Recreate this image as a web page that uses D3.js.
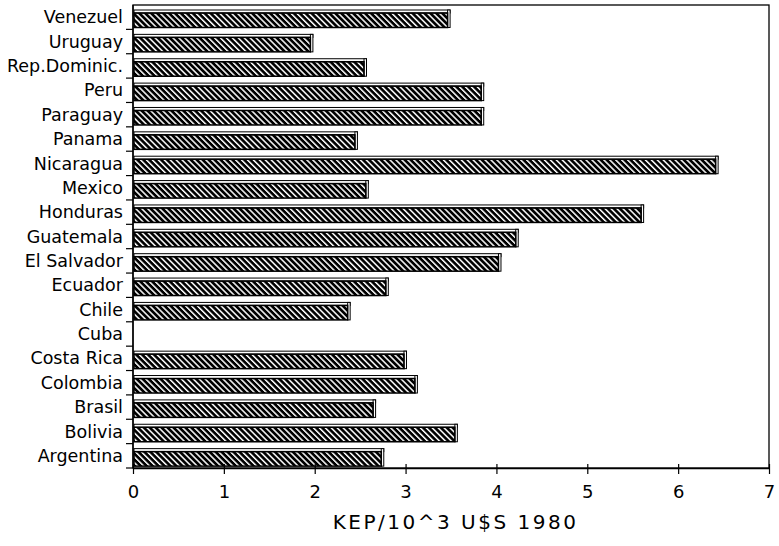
<!DOCTYPE html>
<html>
<head>
<meta charset="utf-8">
<script src="https://cdn.jsdelivr.net/npm/d3@7"></script>
<style>
  html, body { margin: 0; padding: 0; background: #fff; overflow: hidden; }
  svg { display: block; }
  text { font-family: "DejaVu Sans", sans-serif; fill: #000; }
</style>
</head>
<body>
<svg></svg>
<script>
// countries, top to bottom as in the chart
const countries = ["Venezuel", "Uruguay", "Rep.Dominic.", "Peru", "Paraguay", "Panama",
  "Nicaragua", "Mexico", "Honduras", "Guatemala", "El Salvador", "Ecuador", "Chile",
  "Cuba", "Costa Rica", "Colombia", "Brasil", "Bolivia", "Argentina"];
const kep = [3.49, 1.98, 2.57, 3.86, 3.86, 2.47,
  6.44, 2.59, 5.62, 4.24, 4.05, 2.81, 2.39,
  0, 3.01, 3.13, 2.67, 3.57, 2.76];
const xTicks = [0, 1, 2, 3, 4, 5, 6, 7];
const xTitle = "KEP/10^3 U$S 1980";

const w = 779, h = 546;
const margin = { top: 5, right: 10, bottom: 78, left: 133 };
const innerWidth = w - margin.left - margin.right;
const innerHeight = h - margin.top - margin.bottom;

const data = countries.map((c, i) => ({ name: c, value: kep[i] }));

const svg = d3.select("svg").attr("width", w).attr("height", h);

// hatch pattern like the old plotter fill
const defs = svg.append("defs");
defs.append("pattern")
  .attr("id", "hatch")
  .attr("patternUnits", "userSpaceOnUse")
  .attr("width", 4.2).attr("height", 4.2)
  .attr("patternTransform", "rotate(45)")
  .append("rect")
  .attr("x", 0).attr("y", 0)
  .attr("width", 4.2).attr("height", 2.7)
  .attr("fill", "#000");

const g = svg.append("g")
  .attr("transform", `translate(${margin.left}, ${margin.top})`);

const x = d3.scaleLinear().domain([0, 7]).range([0, innerWidth]);
const y = d3.scaleBand().domain(countries).range([0, innerHeight]).padding(0);
const bw = y.bandwidth();

// frame
g.append("rect")
  .attr("x", 0).attr("y", 0)
  .attr("width", innerWidth).attr("height", innerHeight)
  .attr("fill", "none").attr("stroke", "#000").attr("stroke-width", 1.3);

// bars
const bars = g.selectAll("g.bar")
  .data(data.filter(d => d.value > 0))
  .enter().append("g").attr("class", "bar");

// top face
bars.append("rect")
  .attr("x", 1)
  .attr("y", d => y(d.name) + 5)
  .attr("width", d => x(d.value) - 1)
  .attr("height", 3)
  .attr("fill", "#fff").attr("stroke", "#000").attr("stroke-width", 1);

// right face
bars.append("rect")
  .attr("x", d => x(d.value) - 2.5)
  .attr("y", d => y(d.name) + 5)
  .attr("width", 2.5)
  .attr("height", 17.5)
  .attr("fill", "#fff").attr("stroke", "#000").attr("stroke-width", 1);

// hatched body
bars.append("rect")
  .attr("x", 1)
  .attr("y", d => y(d.name) + 8)
  .attr("width", d => x(d.value) - 3.5)
  .attr("height", 14.5)
  .attr("fill", "url(#hatch)").attr("stroke", "#000").attr("stroke-width", 1.5);

// y axis: labels at band centres, ticks at band edges
const yAxis = d3.axisLeft(y).tickSize(0).tickPadding(10);
const yAxisG = g.append("g").call(yAxis);
yAxisG.select(".domain").remove();
yAxisG.selectAll("text").attr("font-size", 17.5).attr("dy", "0.35em")
  .attr("font-family", "DejaVu Sans, sans-serif");

g.append("line")
  .attr("x1", 0).attr("x2", 0).attr("y1", 0).attr("y2", innerHeight)
  .attr("stroke", "#000").attr("stroke-width", 1.3);
g.selectAll("line.ytick")
  .data(countries)
  .enter().append("line").attr("class", "ytick")
  .attr("x1", -7).attr("x2", 0)
  .attr("y1", d => y(d) + bw).attr("y2", d => y(d) + bw)
  .attr("stroke", "#000").attr("stroke-width", 1.2);

// x axis
const xAxis = d3.axisBottom(x).tickValues(xTicks).tickFormat(d3.format("d"))
  .tickSizeInner(6).tickSizeOuter(0).tickPadding(11);
const xAxisG = g.append("g")
  .attr("transform", `translate(0,${innerHeight})`)
  .call(xAxis);
xAxisG.select(".domain").attr("stroke-width", 1.3);
xAxisG.selectAll(".tick line").attr("y1", -4).attr("stroke-width", 1.2);
xAxisG.selectAll("text").attr("font-size", 18).attr("font-family", "DejaVu Sans, sans-serif");

svg.append("text")
  .attr("x", margin.left + x(3.55))
  .attr("y", 529)
  .attr("text-anchor", "middle")
  .attr("font-size", 20)
  .attr("letter-spacing", 2.5)
  .text(xTitle);
</script>
</body>
</html>
